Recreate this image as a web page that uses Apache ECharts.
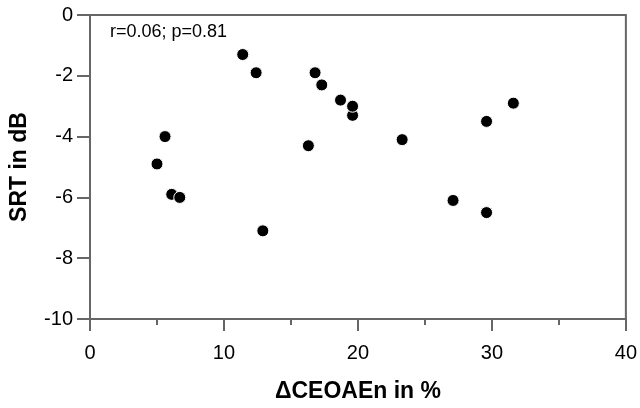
<!DOCTYPE html>
<html lang="en">
<head>
    <meta charset="UTF-8">
    <title>SRT vs CEOAEn</title>
    <script src="https://cdn.jsdelivr.net/npm/echarts@6/dist/echarts.min.js"></script>
    <style>
        * {
            margin: 0;
            padding: 0
        }

        html, body {
            width: 100%;
            height: 100%;
            background: #fff;
        }

        #main {
            width: 640px;
            height: 408px;
        }
    </style>
</head>
<body>
    <div id="main"></div>
</body>
<script type="text/javascript">
    // ΔCEOAEn in % (x) and SRT in dB (y), one entry per subject
    var ceoaeValues = [11.4, 12.4, 16.8, 17.3, 18.7, 19.6, 19.6, 5.6, 5.0, 6.1, 6.7, 16.3, 12.9, 23.3, 31.6, 29.6, 27.1, 29.6];
    var srtValues   = [-1.3, -1.9, -1.9, -2.3, -2.8, -3.3, -3.0, -4.0, -4.9, -5.9, -6.0, -4.3, -7.1, -4.1, -2.9, -3.5, -6.1, -6.5];
    var xTicks = [0, 10, 20, 30, 40];
    var yTicks = [0, -2, -4, -6, -8, -10];
    var statText = 'r=0.06; p=0.81';

    var points = ceoaeValues.map(function (x, i) {
        return [x, srtValues[i]];
    });

    var axisGray = '#666';
    var font = 'Liberation Sans, Arial, sans-serif';

    var chart = echarts.init(document.getElementById('main'));
    chart.setOption({
        animation: false,
        backgroundColor: '#fff',
        grid: {
            left: 87,
            right: 13,
            top: 15,
            bottom: 87,
            show: true,
            borderColor: axisGray,
            borderWidth: 2
        },
        xAxis: {
            type: 'value',
            min: xTicks[0],
            max: xTicks[xTicks.length - 1],
            interval: 10,
            name: 'ΔCEOAEn in %',
            nameLocation: 'middle',
            nameGap: 61,
            nameTextStyle: {fontFamily: font, fontSize: 23, fontWeight: 'bold', color: '#000'},
            axisLine: {show: true, onZero: false, lineStyle: {color: axisGray, width: 2}},
            axisTick: {show: true, inside: false, length: 12, lineStyle: {color: axisGray, width: 2}},
            minorTick: {show: true, splitNumber: 2, length: 6, lineStyle: {color: axisGray, width: 2}},
            axisLabel: {fontFamily: font, fontSize: 20, color: '#000', margin: 24},
            splitLine: {show: false}
        },
        yAxis: {
            type: 'value',
            min: yTicks[yTicks.length - 1],
            max: yTicks[0],
            interval: 2,
            name: 'SRT in dB',
            nameLocation: 'middle',
            nameGap: 59,
            nameTextStyle: {fontFamily: font, fontSize: 23, fontWeight: 'bold', color: '#000'},
            axisLine: {show: true, onZero: false, lineStyle: {color: axisGray, width: 2}},
            axisTick: {show: true, inside: false, length: 13, lineStyle: {color: axisGray, width: 2}},
            axisLabel: {fontFamily: font, fontSize: 20, color: '#000', margin: 17},
            splitLine: {show: false}
        },
        graphic: [{
            type: 'text',
            left: 110,
            top: 23,
            style: {
                text: statText,
                fontFamily: font,
                fontSize: 18,
                fill: '#000'
            }
        }],
        series: [{
            type: 'scatter',
            data: points,
            symbol: 'circle',
            symbolSize: 12,
            itemStyle: {
                color: '#000',
                borderColor: '#fff',
                borderWidth: 1,
                opacity: 1
            }
        }]
    });
</script>
</html>
